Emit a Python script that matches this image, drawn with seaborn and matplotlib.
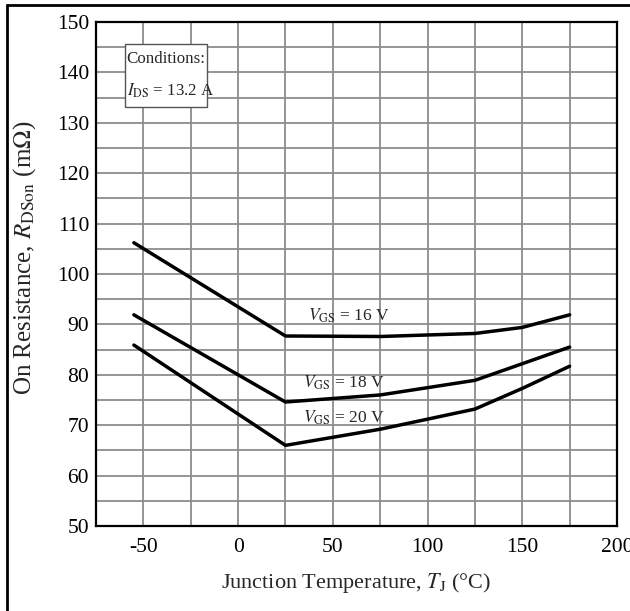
import numpy as np
import pandas as pd
import matplotlib
matplotlib.use("Agg")
import matplotlib.pyplot as plt
import seaborn as sns
from matplotlib.lines import Line2D
from matplotlib.patches import Rectangle

# ---- data ----
temp_16 = [-55, 25, 75, 125, 150, 175]
rds_16 = [106.2, 87.7, 87.6, 88.2, 89.4, 91.9]
temp_18 = [-55, 25, 75, 125, 175]
rds_18 = [91.9, 74.6, 76.0, 78.9, 85.5]
temp_20 = [-55, 25, 75, 125, 150, 175]
rds_20 = [85.9, 66.0, 69.2, 73.2, 77.3, 81.7]
series_names = ["16 V", "18 V", "20 V"]

xticks = [-50, 0, 50, 100, 150, 200]
yticks = [50, 60, 70, 80, 90, 100, 110, 120, 130, 140, 150]

df = pd.concat([
    pd.DataFrame({"T": temp_16, "R": rds_16, "VGS": series_names[0]}),
    pd.DataFrame({"T": temp_18, "R": rds_18, "VGS": series_names[1]}),
    pd.DataFrame({"T": temp_20, "R": rds_20, "VGS": series_names[2]}),
])

sns.set_theme(style="white")
plt.rcParams["font.family"] = ["Liberation Serif", "DejaVu Serif"]
plt.rcParams["mathtext.fontset"] = "stix"
plt.rcParams["axes.unicode_minus"] = False

fig = plt.figure(figsize=(6.30, 6.11), dpi=100)
ax = fig.add_axes([96 / 630, 1 - 526 / 611, (617 - 96) / 630, (526 - 22) / 611])

sns.lineplot(data=df, x="T", y="R", hue="VGS", palette=["black"] * 3,
             linewidth=2.5, legend=False, ax=ax, sort=False, zorder=3)

ax.set_xlim(-75, 200)
ax.set_ylim(50, 150)
ax.set_xticks(xticks)
ax.set_yticks(yticks)
ax.set_xticks(np.arange(-75, 201, 25), minor=True)
ax.set_yticks(np.arange(50, 151, 5), minor=True)
ax.grid(which="both", color="#8c8c8c", linewidth=1.3, zorder=0)
ax.set_axisbelow(True)
ax.tick_params(which="both", length=0, labelsize=15.5, colors="black")
ax.tick_params(axis="x", pad=9)
ax.tick_params(axis="y", pad=5)
for s in ax.spines.values():
    s.set_color("black")
    s.set_linewidth(1.6)

ax.set_xlabel(r"Junction Temperature, $T_{\rm J}$ (°C)", fontsize=16, labelpad=10)
ax.set_ylabel(r"On Resistance, $R_{\rm DSon}$ (m$\Omega$)", fontsize=18)
ax.yaxis.set_label_coords(-(96 - 38) / 521, (526 - 258) / 504)

# series labels
ax.text(37.0, 91.8, r"$V_{\rm GS}$ = 16 V", fontsize=12.5, va="center", ha="left", zorder=4)
ax.text(34.0, 78.5, r"$V_{\rm GS}$ = 18 V", fontsize=12.5, va="center", ha="left", zorder=4)
ax.text(34.5, 71.4, r"$V_{\rm GS}$ = 20 V", fontsize=12.5, va="center", ha="left", zorder=4)

# conditions box
ax.add_patch(Rectangle((-59.7, 133.1), 43.3, 12.5, facecolor="white",
                       edgecolor="#555555", linewidth=1.0, zorder=5))
ax.text(-58.8, 142.6, "Conditions:", fontsize=12.2, va="center", ha="left", zorder=6)
ax.text(-58.8, 136.3, r"$I_{\rm DS}$ = 13.2 A", fontsize=12.2, va="center", ha="left", zorder=6)

# outer frame (left and top edges)
fig.add_artist(Line2D([7 / 630, 7 / 630], [0, 1 - 5 / 611], color="black", linewidth=2.0, transform=fig.transFigure))
fig.add_artist(Line2D([7 / 630, 1], [1 - 5 / 611, 1 - 5 / 611], color="black", linewidth=2.0, transform=fig.transFigure))

fig.savefig("out.png", dpi=100)
